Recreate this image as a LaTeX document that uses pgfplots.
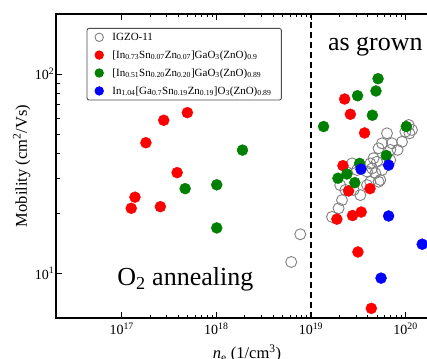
\documentclass[border=0pt]{standalone}
\usepackage{pgfplots}
\pgfplotsset{compat=1.18}
\usepackage{fontspec}
\setmainfont{Liberation Serif}
\begin{document}
\begin{tikzpicture}
\begin{axis}[
  at={(56pt,40pt)}, anchor=south west,
  scale only axis, width=381.9pt, height=304pt,
  xmode=log, ymode=log,
  xmin=2.02e16, xmax=2.2e20, ymin=5.97, ymax=200,
  axis line style={line width=1.1pt, black},
  every tick/.style={black, line width=0.8pt},
  major tick length=6pt, minor tick length=3.5pt,
  tick align=inside,
  xtick={1e17,1e18,1e19,1e20},
  xticklabels={10\textsuperscript{17},10\textsuperscript{18},10\textsuperscript{19},10\textsuperscript{20}},
  ytick={10,100},
  yticklabels={10\textsuperscript{1},10\textsuperscript{2}},
  ticklabel style={font=\fontsize{14}{16}\selectfont},
  xticklabel style={anchor=base, yshift=-17pt},
  yticklabel style={inner sep=1.5pt},
  xlabel={\textit{n}\textsubscript{e} (1/cm\textsuperscript{3})},
  ylabel={Mobility (cm\textsuperscript{2}/Vs)},
  label style={font=\fontsize{16.5}{19}\selectfont},
  xlabel style={at={(axis description cs:0.5,0)}, anchor=base, yshift=-41pt},
  ylabel style={at={(axis description cs:-0.09,0.5)}, anchor=center},
  legend cell align=left,
  legend style={at={(0.08,0.954)}, anchor=north west, draw=black!70, line width=0.9pt,
    rounded corners=2pt, font=\fontsize{11}{12}\selectfont, row sep=4.8pt,
    inner xsep=8pt, inner ysep=2.5pt,
    /tikz/every odd column/.append style={column sep=7pt}},
  legend image code/.code={\draw[#1, mark size=4.2pt] plot coordinates {(0cm,0cm)};},
  clip=false,
]
\addplot[only marks, mark=o, mark size=5.5pt, color=gray, line width=0.9pt] coordinates {
(7.71e18,15.7)(6.19e18,11.4)
(1.08e20,55.5)(9.95e19,51.3)(1.10e20,50.4)(9.18e19,45.7)(6.37e19,50.4)(7.19e19,44.9)
(5.64e19,44.9)(5.19e19,42.4)(6.90e19,41.6)(4.59e19,37.8)(4.24e19,35.6)(4.99e19,36.3)
(4.43e19,33.6)(5.64e19,33.0)(3.92e19,32.4)(4.79e19,31.8)(5.41e19,29.4)(2.72e19,35.6)
(3.07e19,33.0)(2.04e19,27.7)(2.31e19,26.2)(2.83e19,26.2)(3.92e19,27.7)(3.33e19,24.7)
(2.13e19,23.3)(1.96e19,21.2)(1.67e19,19.2)(1.17e20,52.4)(5.19e19,28.8)(4.24e19,28.8)
(6.90e19,37.0)(8.24e19,41.6)
};
\addlegendentry{IGZO-11}
\addplot[only marks, mark=*, mark size=5.5pt, color=red] coordinates {
(4.94e17,64.0)(2.78e17,58.6)(1.80e17,45.2)(3.85e17,32.0)(1.38e17,24.1)(1.26e17,21.2)(2.56e17,21.6)
(2.27e19,74.9)(2.61e19,62.8)(3.69e19,50.6)(2.18e19,34.7)(2.50e19,25.9)(4.21e19,26.6)
(1.88e19,18.7)(2.75e19,19.5)(3.40e19,20.3)(3.14e19,12.8)(4.35e19,6.67)
};
\addlegendentry{[In\textsubscript{0.73}Sn\textsubscript{0.07}Zn\textsubscript{0.07}]GaO\textsubscript{3}(ZnO)\textsubscript{0.9}}
\addplot[only marks, mark=*, mark size=5.5pt, color=green!50!black] coordinates {
(1.89e18,41.5)(4.68e17,26.6)(1.01e18,27.8)(1.01e18,16.9)
(5.12e19,94.7)(4.87e19,82.2)(3.11e19,77.8)(4.46e19,62.1)(1.36e19,54.5)(1.02e20,54.5)
(6.27e19,39.0)(2.40e19,31.5)(1.93e19,30.0)(2.91e19,28.5)(3.27e19,35.6)
};
\addlegendentry{[In\textsubscript{0.51}Sn\textsubscript{0.20}Zn\textsubscript{0.20}]GaO\textsubscript{3}(ZnO)\textsubscript{0.89}}
\addplot[only marks, mark=*, mark size=5.5pt, color=blue] coordinates {
(3.38e19,33.3)(6.62e19,34.9)(6.62e19,19.4)(1.50e20,14.0)(5.51e19,9.46)
};
\addlegendentry{In\textsubscript{1.04}[Ga\textsubscript{0.7}Sn\textsubscript{0.19}Zn\textsubscript{0.19}]O\textsubscript{3}(ZnO)\textsubscript{0.89}}
\addplot[black, line width=1.6pt, dash pattern=on 6pt off 4pt, forget plot] coordinates {(1e19,5.97)(1e19,200)};
\node[font=\fontsize{26}{30}\selectfont, anchor=center] at (axis cs:4.7e17,9.3) {O\textsubscript{2} annealing};
\node[font=\fontsize{26}{30}\selectfont, anchor=center] at (axis cs:4.79e19,136.5) {as grown};
\end{axis}
\pgfresetboundingbox
\path (0,0) rectangle (427pt,358pt);
\end{tikzpicture}
\end{document}
